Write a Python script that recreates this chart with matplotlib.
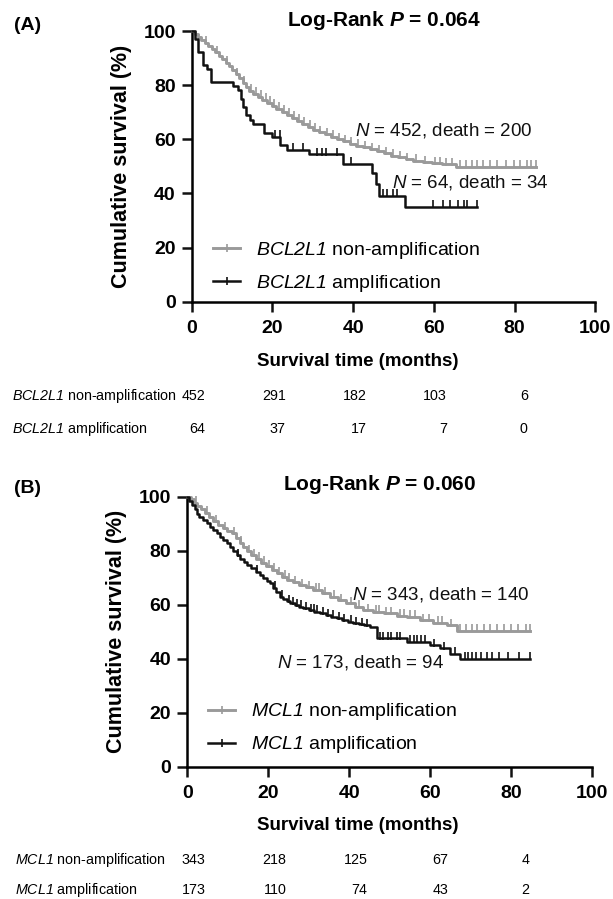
import numpy as np
import matplotlib
matplotlib.use("Agg")
import matplotlib.pyplot as plt
from matplotlib.lines import Line2D
from matplotlib.transforms import blended_transform_factory

plt.rcParams["font.family"] = ["Liberation Sans", "DejaVu Sans"]
plt.rcParams["mathtext.fontset"] = "custom"
plt.rcParams["mathtext.rm"] = "Liberation Sans"
plt.rcParams["mathtext.it"] = "Liberation Sans:italic"
# \mathsf is used for gene names so that the digits are italic too
plt.rcParams["mathtext.sf"] = "Liberation Sans:italic"
plt.rcParams["mathtext.bf"] = "Liberation Sans:bold"
plt.rcParams["mathtext.bfit"] = "Liberation Sans:italic:bold"

GRAY = "#9a9a9a"
BLACK = "#111111"
W, H = 613, 899

x_ticks = [0, 20, 40, 60, 80, 100]
y_ticks = [0, 20, 40, 60, 80, 100]
risk_times = [0, 20, 40, 60, 80]

# ---- panel A: BCL2L1 ----
a_non_t = [0, 0.7, 1.5, 2.4, 3.2, 4.1, 5.0, 5.8, 6.7, 7.5, 8.4, 9.2, 10.1, 10.9, 11.8, 12.6,
           13.5, 14.3, 15.2, 16.4, 17.5, 18.7, 19.8, 21.0, 22.3, 23.5, 24.8, 26.0, 27.4, 28.7,
           30.1, 31.6, 33.0, 34.5, 36.1, 37.6, 39.2, 40.8, 42.5, 44.1, 45.8, 47.6, 49.3, 51.1,
           53.0, 54.9, 57.2, 59.5, 62.0, 65.6]
a_non_s = [100, 98.9, 97.8, 96.6, 95.7, 94.6, 93.4, 92.2, 90.9, 89.6, 88.3, 87.0, 85.5, 84.0,
           82.5, 80.9, 79.4, 78.0, 76.8, 75.7, 74.6, 73.5, 72.4, 71.3, 70.2, 69.0, 67.9, 66.8,
           65.7, 64.6, 63.5, 62.6, 61.8, 60.9, 60.0, 59.2, 58.4, 57.7, 57.0, 56.3, 55.5, 54.8,
           54.0, 53.3, 52.6, 52.0, 51.5, 51.1, 50.7, 49.9]
a_non_cens = [3.5, 6.2, 8.8, 11.3, 13.0, 14.8, 16.0, 17.2, 18.3, 19.5, 20.4, 21.6, 22.9, 24.1,
              25.3, 26.6, 27.9, 29.2, 30.6, 31.9, 33.5, 35.0, 36.4, 37.9, 39.6, 41.2, 42.9,
              44.6, 46.3, 48.1, 49.8, 51.6, 53.4, 55.6, 57.8, 60.2, 61.5, 63.1, 64.4, 66.4,
              67.9, 69.5, 70.8, 72.2, 74.0, 75.6, 78.0, 79.8, 81.4, 83.0, 84.1, 85.3]
a_amp_t = [0, 0.8, 1.6, 2.9, 3.7, 4.9, 10.3, 11.5, 12.3, 12.8, 13.4, 14.5, 15.3, 18.0, 19.9,
           22.0, 23.7, 29.0, 37.6, 44.6, 45.6, 46.3, 52.9]
a_amp_s = [100, 96.9, 92.2, 87.5, 85.9, 81.3, 79.7, 78.1, 75.0, 71.9, 68.8, 67.2, 65.6, 62.5,
           60.9, 57.8, 56.2, 54.4, 51.0, 47.6, 43.5, 39.2, 35.1]
a_amp_cens = [20.6, 21.8, 25.2, 27.6, 31.0, 32.4, 33.3, 35.9, 39.4, 47.5, 48.3, 50.0, 50.8,
              59.9, 62.3, 64.0, 66.0, 67.5, 68.2, 70.6]
a_non_risk = [452, 291, 182, 103, 6]
a_amp_risk = [64, 37, 17, 7, 0]

# ---- panel B: MCL1 ----
b_non_t = [0, 0.8, 1.6, 2.5, 3.4, 4.4, 5.4, 6.4, 7.5, 8.7, 9.9, 11.0, 12.0, 12.9, 13.8, 14.8,
           15.8, 17.0, 18.2, 19.5, 20.8, 22.1, 23.3, 24.6, 26.0, 27.5, 29.3, 31.1, 33.2, 35.2,
           37.2, 39.3, 41.4, 43.5, 45.8, 48.5, 51.7, 54.3, 57.4, 60.7, 64.0, 66.5]
b_non_s = [100, 99.0, 97.8, 96.6, 95.4, 94.0, 92.6, 91.0, 89.6, 88.3, 87.3, 86.4, 84.6, 82.9,
           81.3, 79.9, 78.4, 77.0, 75.6, 74.2, 72.9, 71.6, 70.4, 69.2, 68.3, 67.3, 66.4, 65.5,
           64.2, 63.0, 61.7, 60.5, 59.2, 58.0, 57.4, 56.8, 56.0, 55.6, 54.3, 53.3, 52.5, 50.4]
b_non_cens = [2.2, 4.9, 7.0, 9.3, 11.6, 13.3, 15.3, 16.5, 17.6, 19.0, 20.2, 21.4, 22.7, 24.0,
              25.2, 26.7, 28.3, 30.0, 31.8, 32.6, 34.0, 36.1, 38.0, 40.3, 42.4, 44.6, 46.5,
              47.3, 49.0, 50.2, 52.6, 53.5, 55.0, 56.2, 58.3, 59.6, 61.8, 62.9, 65.1, 67.4,
              68.9, 70.3, 71.6, 73.2, 74.8, 76.5, 78.1, 80.0, 81.7, 83.6, 84.7]
b_amp_t = [0, 0.4, 1.2, 1.8, 2.3, 3.0, 3.8, 4.8, 5.6, 6.4, 7.3, 8.1, 8.9, 9.7, 10.5, 11.4,
           12.2, 13.0, 13.9, 14.7, 15.8, 16.9, 18.0, 18.8, 19.6, 20.4, 21.2, 22.0, 22.9, 23.7,
           24.6, 25.4, 26.5, 27.6, 28.6, 30.0, 31.4, 32.8, 34.2, 35.5, 36.9, 38.3, 39.6, 41.0,
           42.4, 43.7, 45.1, 46.8, 54.2, 59.9, 62.4, 64.9, 67.3]
b_amp_s = [100, 98.5, 97.0, 95.5, 93.7, 92.6, 91.4, 90.2, 88.9, 87.6, 86.4, 85.1, 83.9, 82.7,
           81.3, 79.8, 78.4, 77.1, 75.9, 74.7, 73.5, 72.2, 71.0, 69.9, 68.9, 67.9, 66.3, 64.6,
           63.0, 62.1, 61.3, 60.5, 59.8, 59.2, 58.6, 58.0, 57.4, 56.8, 56.1, 55.5, 54.9, 54.3,
           53.7, 53.1, 52.7, 52.3, 51.9, 47.6, 46.3, 45.0, 43.8, 41.9, 40.0]
b_amp_cens = [12.5, 17.3, 21.6, 23.3, 25.0, 26.1, 27.2, 28.0, 29.4, 30.5, 31.2, 32.1, 33.6,
              34.7, 35.9, 37.5, 38.8, 40.3, 41.6, 43.1, 44.4, 47.6, 48.4, 49.5, 50.3, 51.8,
              52.6, 55.1, 55.9, 56.8, 57.7, 58.6, 61.0, 63.5, 66.1, 68.5, 69.3, 70.4, 71.2,
              72.6, 73.9, 75.3, 77.0, 79.2, 81.8, 84.7]
b_non_risk = [343, 218, 125, 67, 4]
b_amp_risk = [173, 110, 74, 43, 2]


def fx(px):
    return px / W


def fy(py):
    return 1 - py / H


def km_curve(ax, t, s, cens, color, lw):
    t = np.asarray(t, float)
    s = np.asarray(s, float)
    end = max(cens)
    ax.step(np.r_[t, end], np.r_[s, s[-1]], where="post", color=color, lw=lw,
            clip_on=False, zorder=3)
    idx = np.searchsorted(t, cens, side="right") - 1
    ax.plot(cens, s[idx] + 0.9, ls="none", marker="|", ms=6, mew=1.2, color=color,
            clip_on=False, zorder=3)


def style_axes(ax):
    ax.set_xlim(0, 100)
    ax.set_ylim(0, 100)
    ax.set_xticks(x_ticks)
    ax.set_yticks(y_ticks)
    for side in ("top", "right"):
        ax.spines[side].set_visible(False)
    for side in ("left", "bottom"):
        ax.spines[side].set_linewidth(1.8)
    ax.tick_params(direction="out", length=7, width=1.8, color=BLACK, labelsize=14)
    ax.tick_params(axis="x", pad=6)
    ax.tick_params(axis="y", pad=4.5)
    for lab in ax.get_xticklabels() + ax.get_yticklabels():
        lab.set_fontweight("bold")


def panel(fig, rect, gene, tag, pval, non, amp, notes, leg_xy, layout):
    # non / amp: (times, survival, censored times, N, deaths, at-risk counts)
    ax = fig.add_axes(rect)
    style_axes(ax)
    km_curve(ax, non[0], non[1], non[2], GRAY, 2.1)
    km_curve(ax, amp[0], amp[1], amp[2], BLACK, 1.8)

    handles = [Line2D([], [], color=GRAY, lw=2.1, marker="|", ms=6, mew=1.2),
               Line2D([], [], color=BLACK, lw=1.8, marker="|", ms=6, mew=1.2)]
    labels = [rf"$\mathsf{{{gene}}}$ non-amplification", rf"$\mathsf{{{gene}}}$ amplification"]
    ax.legend(handles, labels, loc="center left", bbox_to_anchor=leg_xy, frameon=False,
              fontsize=14, numpoints=1, handlelength=1.4, handletextpad=0.8,
              labelspacing=0.62, borderpad=0, borderaxespad=0)

    for (x, y), grp in zip(notes, [non, amp]):
        fig.text(fx(x), fy(y), rf"$\mathit{{N}}$ = {grp[3]}, death = {grp[4]}",
                 fontsize=13.5, ha="left", va="center", color=BLACK)

    fig.text(fx(layout["tag"][0]), fy(layout["tag"][1]), tag, fontsize=14,
             fontweight="bold", ha="left", va="center")
    fig.text(fx(layout["title"][0]), fy(layout["title"][1]),
             rf"Log-Rank $\mathbfit{{P}}$ = {pval}", fontsize=15, fontweight="bold",
             ha="center", va="center")
    fig.text(fx(layout["ylab"]), (rect[1] + rect[3] / 2), "Cumulative survival (%)",
             rotation=90, fontsize=15.5, fontweight="bold", ha="center", va="center")
    fig.text(fx(358), fy(layout["xlab"]), "Survival time (months)",
             fontsize=13.5, fontweight="bold", ha="center", va="center")

    trans = blended_transform_factory(ax.transData, fig.transFigure)
    rows = [(f"$\\mathsf{{{gene}}}$ non-amplification", non[5]),
            (f"$\\mathsf{{{gene}}}$ amplification", amp[5])]
    for (lab, risk), y in zip(rows, layout["rows"]):
        fig.text(fx(layout["row_x"]), fy(y), lab, fontsize=10.3, ha="left", va="center")
        for t, n in zip(risk_times, risk):
            # counts sit right-aligned just past each tick
            ax.text(t + layout["risk_shift"], fy(y), str(n), transform=trans,
                    fontsize=10.3, ha="right", va="center")
    return ax


fig = plt.figure(figsize=(W / 100, H / 100), dpi=100)

panel(fig, [fx(191.7), fy(301.7), 403.5 / W, 270.7 / H], "BCL2L1", "(A)", "0.064",
      (a_non_t, a_non_s, a_non_cens, 452, 200, a_non_risk),
      (a_amp_t, a_amp_s, a_amp_cens, 64, 34, a_amp_risk),
      [(354.5, 130), (391.7, 182.7)], (0.053, 0.128),
      {"tag": (14, 26), "title": (383.5, 21), "ylab": 122, "xlab": 362,
       "rows": (396, 429), "row_x": 12, "risk_shift": 3.3})

panel(fig, [fx(187.3), fy(766.7), 405 / W, 270 / H], "MCL1", "(B)", "0.060",
      (b_non_t, b_non_s, b_non_cens, 343, 140, b_non_risk),
      (b_amp_t, b_amp_s, b_amp_cens, 173, 94, b_amp_risk),
      [(351.7, 594), (276.7, 663)], (0.051, 0.142),
      {"tag": (14, 488), "title": (380, 485), "ylab": 117, "xlab": 826,
       "rows": (860, 890), "row_x": 15, "risk_shift": 4.5})

fig.savefig("out.png", dpi=100)
